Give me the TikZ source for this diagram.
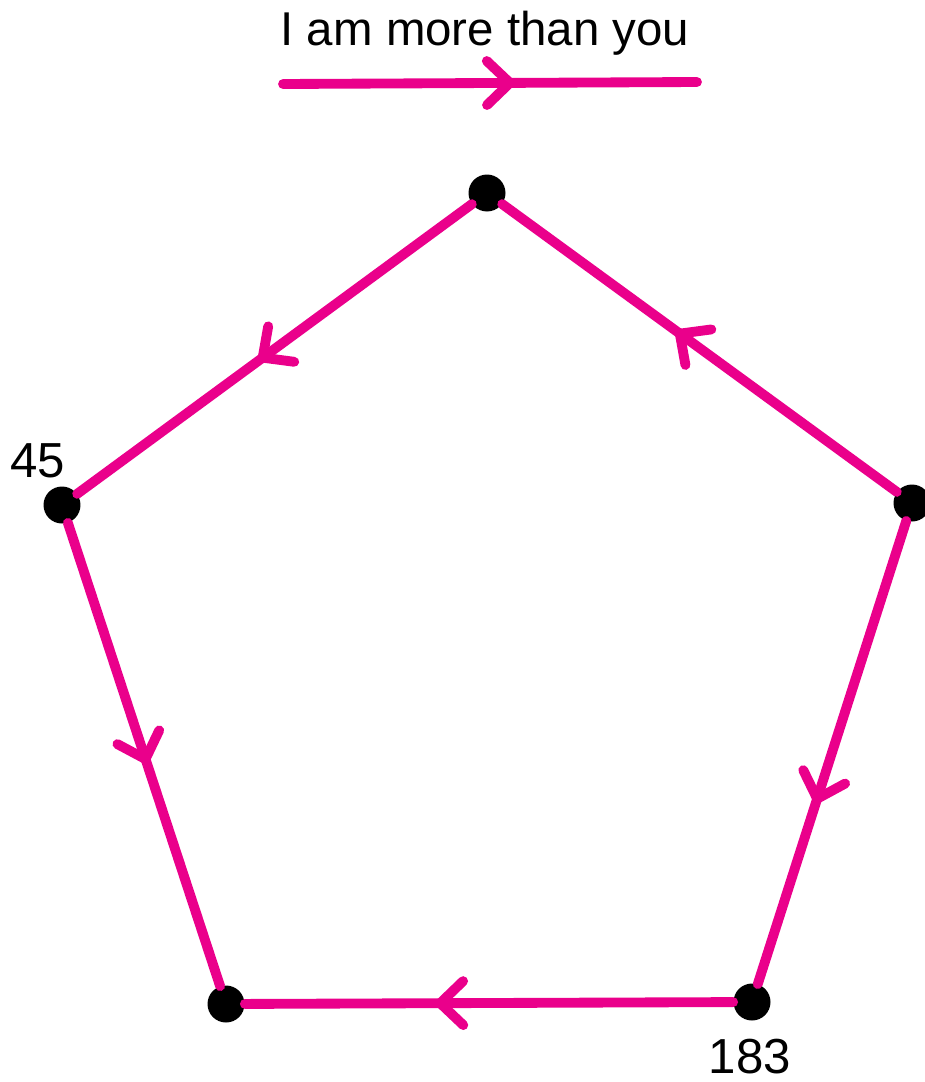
\documentclass[tikz,border=0pt]{standalone}
\usepackage{fontspec}
\setmainfont{Liberation Sans}
\usetikzlibrary{arrows.meta,decorations.markings}

\definecolor{hotpink}{RGB}{234,0,139}

\tikzset{
  dot/.style={circle, fill=black, inner sep=0pt, minimum size=0.74cm},
  flow/.style={draw=hotpink, line width=5.6pt, line cap=round, postaction=decorate,
    decoration={markings, mark=at position #1 with {\arrow[hotpink]{Straight Barb[length=0.46cm, width=0.88cm, line cap=round, round]}}}},
}

\begin{document}
\begin{tikzpicture}[x=0.02cm, y=-0.02cm]
		\useasboundingbox (0,0) rectangle (925,1082);

		% Legend
		\node (legend) at (485,33) [font=\fontsize{27}{30}\selectfont] {I am more than you};
		\coordinate (lstart) at (283,84);
		\coordinate (lend) at (697,82);
		\draw[flow=0.56] (lstart) -- (lend);

		% Vertices
		\node (top) [dot] at (487,193) {};
		\node (right) [dot] at (912,503) {};
		\node (left) [dot] at (62,505) {};
		\node (botleft) [dot] at (226,1004) {};
		\node (botright) [dot] at (752,1002) {};

		% Edges
		\draw[flow=0.54] (top) -- (left);
		\draw[flow=0.56] (right) -- (top);
		\draw[flow=0.52] (left) -- (botleft);
		\draw[flow=0.61] (right) -- (botright);
		\draw[flow=0.61] (botright) -- (botleft);

		% Labels
		\node (lab45) at (38,461) [font=\fontsize{28}{30}\selectfont] {45};
		\node (lab183) at (750,1057) [font=\fontsize{28}{30}\selectfont] {183};
	\end{tikzpicture}
\end{document}
